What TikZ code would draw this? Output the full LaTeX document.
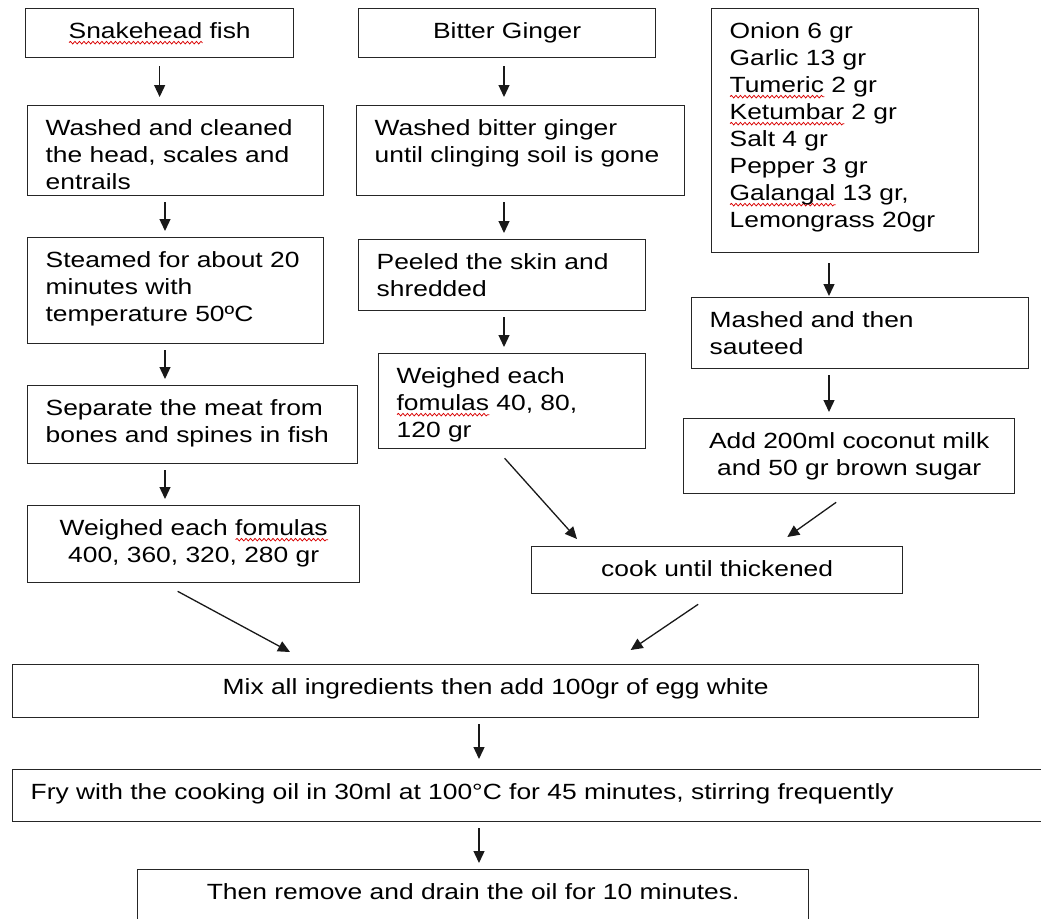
\documentclass[tikz,border=0pt]{standalone}
\usepackage{fontspec}
\setmainfont{Liberation Sans}[FakeStretch=1.2]
\usetikzlibrary{arrows.meta,decorations.pathmorphing}

% red spell-check wave under a word
\newsavebox{\spellbox}
\newcommand{\spellwave}[1]{\leavevmode\sbox{\spellbox}{#1}\rlap{\tikz[baseline=0pt]\draw[red!85!black, line width=0.75pt,
  decorate, decoration={snake, amplitude=1.3pt, segment length=4.5pt}] (0pt,-4.5pt) -- (\the\wd\spellbox,-4.5pt);}\usebox{\spellbox}}
\newcommand{\stepfont}{\fontsize{22}{27}\selectfont}

\tikzset{
  stepbox/.style={draw=black!85, line width=1.3pt, inner ysep=0pt, text height=29.5pt,
    font=\stepfont, anchor=north west},
  leftbox/.style={stepbox, inner xsep=18pt,
    execute at begin node={\raggedright\rightskip=0pt plus 1fil minus 500pt}},
  midbox/.style={stepbox, inner xsep=6pt, align=center},
  lsize/.style 2 args={text width={#1pt-36pt}, text depth={#2pt-29.5pt}},
  msize/.style 2 args={text width={#1pt-12pt}, text depth={#2pt-29.5pt}},
  flow/.style={-{Triangle[length=12pt,width=11pt]}, line width=1.3pt, black!90,
    shorten <=6pt, shorten >=6pt},
}

\begin{document}
\begin{tikzpicture}[x=1pt,y=-1pt]

\useasboundingbox (0,0) rectangle (1041,918);

% fish column
\node[midbox, msize={268}{49}] (fish) at (25,8) {\spellwave{Snakehead} fish};
\node[leftbox, lsize={296}{90}] (washA) at (27,105) {Washed and cleaned\\the head, scales and\\entrails};
\node[leftbox, lsize={296}{106}] (steam) at (27,237) {Steamed for about 20\\minutes with\\temperature 50ºC};
\node[leftbox, lsize={330}{78}] (separate) at (27,385) {Separate the meat from\\bones and spines in fish};
\node[midbox, msize={332}{77}] (weighA) at (27,505) {Weighed each \spellwave{fomulas}\\400, 360, 320, 280 gr};

% ginger column
\node[midbox, msize={297}{49}] (ginger) at (358,8) {Bitter Ginger};
\node[leftbox, lsize={328}{90}] (washB) at (356,105) {Washed bitter ginger\\until clinging soil is gone};
\node[leftbox, lsize={287}{71}] (peel) at (358,239) {Peeled the skin and\\shredded};
\node[leftbox, lsize={267}{95}] (weighB) at (378,353) {Weighed each\\\spellwave{fomulas} 40, 80,\\120 gr};

% spice column
\node[leftbox, lsize={267}{244}] (spice) at (711,8) {Onion 6 gr\\Garlic 13 gr\\\spellwave{Tumeric} 2 gr\\\spellwave{Ketumbar} 2 gr\\Salt 4 gr\\Pepper 3 gr\\\spellwave{Galangal} 13 gr,\\Lemongrass 20gr};
\node[leftbox, lsize={337}{71}] (mash) at (691,297) {Mashed and then\\sauteed};
\node[midbox, msize={331}{75}] (coco) at (683,418) {Add 200ml coconut milk\\and 50 gr brown sugar};
\node[midbox, msize={371}{47}] (cook) at (531,546) {cook until thickened};

% final steps
\node[midbox, msize={966}{53}] (mix) at (12,664) {Mix all ingredients then add 100gr of egg white};
\node[leftbox, lsize={1040}{52}] (fry) at (12,769) {Fry with the cooking oil in 30ml at 100°C for 45 minutes, stirring frequently};
\node[midbox, msize={671}{53}] (drain) at (137,869) {Then remove and drain the oil for 10 minutes.};

% arrow columns
\coordinate (colA) at (165,0);
\coordinate (colB) at (504,0);
\coordinate (colC) at (829,0);
\coordinate (colD) at (479,0);

\draw[flow, shorten <=8pt, shorten >=8pt] (fish.south) -- (fish.south |- washA.north);
\draw[flow] (colA |- washA.south) -- (colA |- steam.north);
\draw[flow] (colA |- steam.south) -- (colA |- separate.north);
\draw[flow] (colA |- separate.south) -- (colA |- weighA.north);

\draw[flow, shorten <=8pt, shorten >=8pt] (colB |- ginger.south) -- (colB |- washB.north);
\draw[flow] (colB |- washB.south) -- (colB |- peel.north);
\draw[flow] (colB |- peel.south) -- (colB |- weighB.north);

\draw[flow, shorten <=10pt, shorten >=1pt] (colC |- spice.south) -- (colC |- mash.north);
\draw[flow] (colC |- mash.south) -- (colC |- coco.north);

% into the cooking and mixing steps
\draw[flow, shorten <=0pt, shorten >=0pt] ([shift={(-7.5,9)}]weighB.south) -- ([shift={(46,-7)}]cook.north west);
\draw[flow, shorten <=0pt, shorten >=0pt] ([shift={(-13,8)}]coco.south) -- ([shift={(-116,-9)}]cook.north east);
\draw[flow, shorten <=0pt, shorten >=0pt] ([shift={(-16,8)}]weighA.south) -- ([shift={(278,-12)}]mix.north west);
\draw[flow, shorten <=0pt, shorten >=0pt] ([shift={(-19,10)}]cook.south) -- ([shift={(135,-14)}]mix.north);

\draw[flow, shorten >=10pt] (colD |- mix.south) -- (colD |- fry.north);
\draw[flow] (colD |- fry.south) -- (colD |- drain.north);

\end{tikzpicture}
\end{document}
